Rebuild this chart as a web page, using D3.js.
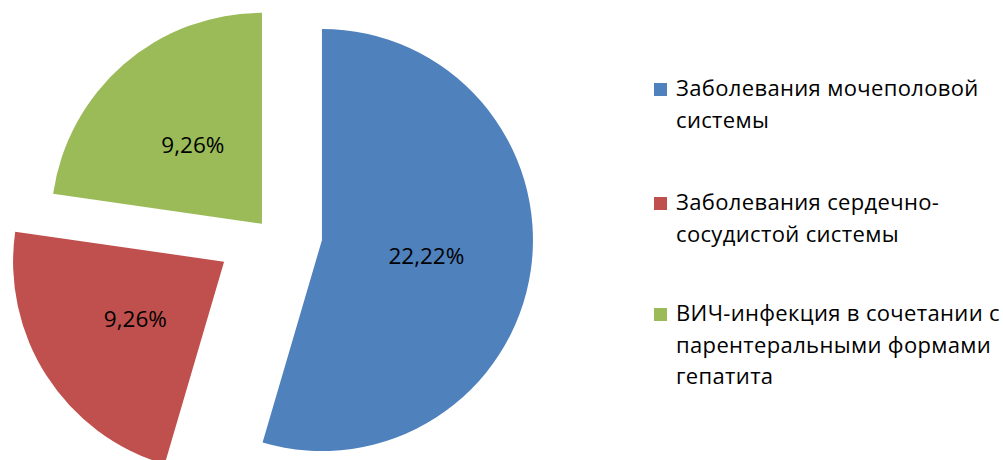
<!DOCTYPE html>
<html>
<head>
<meta charset="utf-8">
<script src="https://cdn.jsdelivr.net/npm/d3@7"></script>
<style>
  html, body { margin: 0; padding: 0; background: #fff; }
  svg { display: block; }
</style>
</head>
<body>
<svg id="chart" width="1003" height="460"></svg>
<script>
// Categories and shares (percent) of the pie
const categories = [
  "Заболевания мочеполовой системы",
  "Заболевания сердечно-сосудистой системы",
  "ВИЧ-инфекция в сочетании с парентеральными формами гепатита"
];
const values = [22.22, 9.26, 9.26];

// Styling
const colors = ["#4F81BD", "#C0504D", "#9BBB59"];
const explode = [53, 54, 11.5];   // how far each slice is pulled out, px
const FONT = "'Open Sans', 'Noto Sans', sans-serif";
const LEGEND_SIZE = 22;
const LEGEND_SPACING = 0.35;
const LABEL_SIZE = 22.5;

const svg = d3.select("#chart");
const cx = 269.5, cy = 232.5, radius = 211;

const locale = d3.formatLocale({ decimal: ",", thousands: " ", grouping: [3], currency: ["", ""] });
const fmt = locale.format(".2f");

const pie = d3.pie().sort(null).value(d => d.value);
const arcs = pie(values.map((v, i) => ({ value: v, name: categories[i], i })));
const arc = d3.arc().innerRadius(0).outerRadius(radius);

const g = svg.append("g").attr("transform", `translate(${cx},${cy})`);

const slice = g.selectAll("g.slice").data(arcs).join("g")
  .attr("class", "slice")
  .attr("transform", d => {
    const a = (d.startAngle + d.endAngle) / 2;
    const off = explode[d.data.i];
    return `translate(${off * Math.sin(a)},${-off * Math.cos(a)})`;
  });

slice.append("path")
  .attr("d", arc)
  .attr("fill", d => colors[d.data.i]);

slice.append("text")
  .attr("transform", d => `translate(${arc.centroid(d)})`)
  .attr("text-anchor", "middle")
  .attr("dominant-baseline", "central")
  .attr("font-family", FONT)
  .attr("font-size", LABEL_SIZE)
  .attr("fill", "#000")
  .text(d => fmt(d.data.value) + "%");

// Legend
const legend = svg.append("g").attr("transform", "translate(654,0)");
const itemTop = [96, 210, 321];      // baseline of the first line of each item
const lineH = 31.5;
const maxW = 340;

function wrapLines(text) {
  // break after spaces or hyphens
  const tokens = text.match(/[^\s-]+-?\s*/g) || [text];
  const probe = legend.append("text")
    .attr("font-family", FONT).attr("font-size", LEGEND_SIZE)
    .attr("letter-spacing", LEGEND_SPACING);
  const lines = [];
  let cur = "";
  tokens.forEach(t => {
    const trial = cur + t;
    probe.text(trial.trimEnd());
    if (cur && probe.node().getComputedTextLength() > maxW) {
      lines.push(cur.trimEnd());
      cur = t;
    } else {
      cur = trial;
    }
  });
  if (cur) lines.push(cur.trimEnd());
  probe.remove();
  return lines;
}

categories.forEach((name, i) => {
  const item = legend.append("g");
  item.append("rect")
    .attr("x", 0).attr("y", itemTop[i] - 13)
    .attr("width", 13).attr("height", 13)
    .attr("fill", colors[i]);
  const t = item.append("text")
    .attr("font-family", FONT)
    .attr("font-size", LEGEND_SIZE)
    .attr("letter-spacing", LEGEND_SPACING)
    .attr("fill", "#000");
  wrapLines(name).forEach((ln, k) => {
    t.append("tspan").attr("x", 22).attr("y", itemTop[i] + k * lineH).text(ln);
  });
});
</script>
</body>
</html>
